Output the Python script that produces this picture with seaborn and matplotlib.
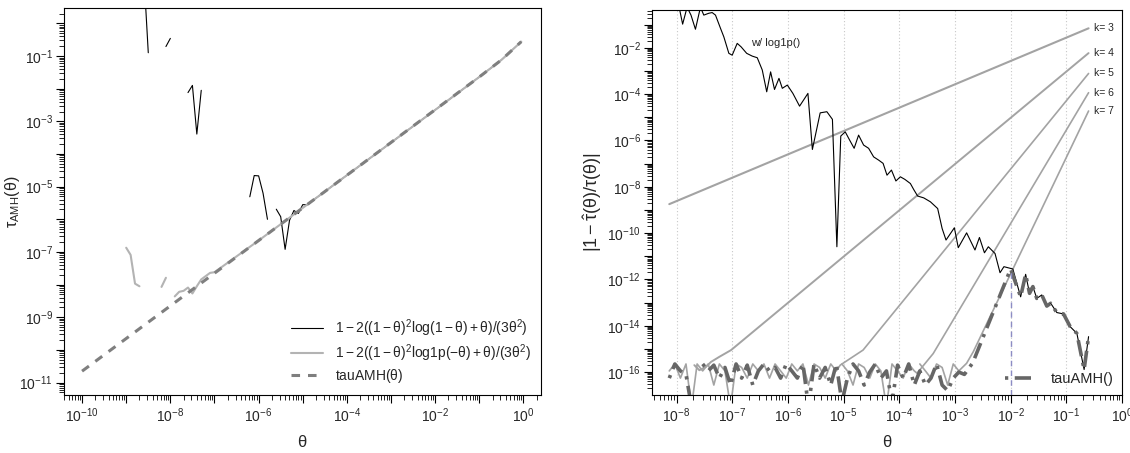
"""Relative error of tau_AMH evaluations (left: tau itself, right: |1 - tau_hat/tau|)."""

import numpy as np
import pandas as pd
import matplotlib
matplotlib.use("Agg")
import matplotlib.pyplot as plt
import seaborn as sns
from matplotlib.lines import Line2D
from matplotlib.ticker import FixedLocator, FuncFormatter, NullFormatter

nan = np.nan

# ---- left panel, values as log10(theta) / log10(tau) ----
left_naive_lx = [-8.6, -8.5, nan, -8.1, -8.0, nan, -7.6, -7.5, -7.4, -7.3, nan,
                 -6.2, -6.1, -6.0, -5.9, -5.8, nan,
                 -5.6, -5.5, -5.4, -5.3, -5.2, -5.1, -5.0, -4.9, -4.8,
                 -4.0, -2.0, -1.0, -0.5, -0.05]
left_naive_ly = [1.5, -0.90, nan, -0.71, -0.46, nan, -2.12, -1.90, -3.39, -2.05, nan,
                 -5.31, -4.66, -4.67, -5.20, -6.00, nan,
                 -5.69, -5.92, -6.92, -6.03, -5.73, -5.82, -5.55, -5.56, -5.45,
                 -4.65, -2.65, -1.64, -1.12, -0.56]

left_log1p_lx = [-9.0, -8.9, -8.8, -8.7, nan, -8.2, -8.1, nan,
                 -7.9, -7.8, -7.7, -7.6, -7.5, -7.4, -7.3, -7.2, -7.1, -7.0,
                 -6.0, -4.0, -2.0, -1.0, -0.5, -0.05]
left_log1p_ly = [-6.87, -7.09, -7.97, -8.05, nan, -8.07, -7.79, nan,
                 -8.36, -8.22, -8.19, -8.09, -8.27, -8.05, -7.84, -7.74, -7.64, -7.62,
                 -6.65, -4.65, -2.65, -1.64, -1.12, -0.56]

left_tau_lx = [-10.0, -7.0, -4.0, -1.0, -0.5, -0.05]
left_tau_ly = [-10.65, -7.65, -4.65, -1.64, -1.12, -0.56]

left_labels = [r"$1-2((1-\mathrm{\theta})^2\log(1-\mathrm{\theta})+\mathrm{\theta})/(3\mathrm{\theta}^2)$",
               r"$1-2((1-\mathrm{\theta})^2\mathrm{log1p}(-\mathrm{\theta})+\mathrm{\theta})/(3\mathrm{\theta}^2)$",
               r"tauAMH($\mathrm{\theta}$)"]

# ---- right panel ----
log1p_lx = [-8.0, -7.89, -7.81, -7.74, -7.66, -7.57, -7.51, -7.42, -7.36, -7.30,
            -7.21, -7.15, -7.06, -7.00, -6.91, -6.84, -6.74, -6.64, -6.55, -6.46,
            -6.38, -6.31, -6.24, -6.16, -6.10, -6.01, -5.91, -5.79, -5.64, -5.56,
            -5.42, -5.30, -5.20, -5.12, -5.05, -4.97, -4.89, -4.81, -4.73, -4.64,
            -4.55, -4.46, -4.37, -4.29, -4.22, -4.14, -4.06, -3.98, -3.90, -3.80,
            -3.74, -3.67, -3.56, -3.44, -3.31, -3.23, -3.16, -3.01, -2.94, -2.79,
            -2.64, -2.56, -2.47, -2.40, -2.28, -2.19, -2.12, -1.96, -1.82, -1.73,
            -1.66, -1.60, -1.53, -1.44, -1.35, -1.28, -1.17, -1.05, -0.93, -0.81,
            -0.68, -0.60]
log1p_ly = [0.3, -0.98, -0.25, -0.59, -1.2, -0.25, -0.59, -0.51, -0.48, -0.59,
            -1.16, -1.53, -2.24, -2.32, -1.81, -1.96, -2.24, -2.36, -2.43, -2.96,
            -3.90, -3.04, -3.80, -3.32, -3.75, -3.61, -3.97, -4.52, -3.97, -6.39,
            -4.81, -4.76, -5.09, -10.59, -5.81, -5.63, -5.99, -6.34, -5.77, -6.20,
            -6.34, -6.71, -6.85, -6.99, -7.50, -7.28, -7.75, -7.57, -7.68, -7.86,
            -8.12, -8.40, -8.48, -8.65, -8.94, -9.80, -10.30, -9.77, -10.63, -9.99,
            -10.73, -10.19, -10.85, -10.59, -10.88, -11.71, -11.45, -11.55, -12.75, -11.78,
            -12.60, -12.31, -12.82, -12.67, -13.15, -13.03, -13.43, -13.49, -14.04, -14.33,
            -15.89, -14.47]

floor_lx = [-8.13, -8.03, -7.93, -7.83, -7.73, -7.63, -7.53, -7.43, -7.33, -7.23,
            -7.13, -7.03, -6.93, -6.83, -6.73, -6.63, -6.53, -6.43, -6.33, -6.23,
            -6.13, -6.03, -5.93, -5.83, -5.73, -5.63, -5.53, -5.43, -5.33, -5.23,
            -5.13, -5.03, -4.93, -4.83, -4.73, -4.63, -4.53, -4.43, -4.33, -4.23,
            -4.13, -4.03, -3.93, -3.83, -3.73, -3.63, -3.53, -3.43, -3.33, -3.23,
            -3.13, -3.03, -2.93]
tau_floor_ly = [-16.26, -15.65, -15.95, -16.10, -17.50, nan, -15.65, -15.95, -15.70, -16.26,
                -15.80, -16.56, -15.65, -16.26, -15.70, -16.56, -15.95, -15.65, -15.95, -15.80,
                -16.26, -15.65, -15.95, -16.26, -15.65, -17.50, -15.65, -16.26, -15.80, -16.56,
                -15.65, -17.30, -16.26, -15.65, -15.95, -16.56, -16.00, -15.65, -16.26, -15.95,
                -17.30, -15.70, -16.26, -15.65, -16.56, -15.95, -16.56, -16.26, -15.65, -16.56,
                -16.80, -16.26, -16.00]
tau_rise_lx = [-2.83, -2.68, -2.0]
tau_rise_ly = [-16.10, -15.60, -11.55]

k5_floor_ly = [-15.95, -15.65, -16.26, -15.65, -17.50, -15.65, -15.95, -15.65, -16.56, -15.65,
               -15.95, -17.50, -15.65, -15.80, -16.26, -15.65, -15.95, -15.65, -16.26, -15.65,
               -15.95, -16.26, -15.65, -15.95, -15.65, -16.56, -15.65, -15.80, -16.26, -15.65,
               -15.95]
k6_floor_ly = [-15.65, -15.95, -16.56, -15.65, -15.80, -16.26, -15.65, -15.95, -17.50, -15.65,
               -15.95, -16.26, -15.65, -15.95]
k7_floor_ly = [-15.65, -15.95, -16.26, -15.65, -15.80, -16.56, -15.65, -15.95]

k3_lx, k3_ly = [-8.13, -0.60], [-8.75, -1.16]
k4_lx = [-7.68, -7.59, -7.47, -7.38, -7.23, -7.02, -0.60]
k4_ly = [-15.70, -15.92, -15.77, -15.56, -15.34, -15.05, -2.23]
k5_rise_lx, k5_rise_ly = [-5.06, -4.65, -0.60], [-15.70, -15.05, -3.11]
k6_rise_lx, k6_rise_ly = [-3.68, -3.39, -0.60], [-16.05, -15.20, -3.94]
k7_rise_lx, k7_rise_ly = [-2.79, -2.67, -0.60], [-15.62, -15.12, -4.73]

switch_theta = 1e-2  # tauAMH() switches from Taylor series to log1p() here

GRAY_K = "#a3a3a3"
GRAY_TAU = "#666666"


def draw(ax, lx, ly, **kw):
    """Draw one series on log axes; NaN breaks the line like in R."""
    df = pd.DataFrame({"lx": lx, "ly": ly})
    df["seg"] = (df["lx"].isna() | df["ly"].isna()).cumsum()
    df = df.dropna()
    df["theta"] = 10.0 ** df["lx"]
    df["val"] = 10.0 ** df["ly"]
    sns.lineplot(data=df, x="theta", y="val", units="seg", estimator=None,
                 sort=False, ax=ax, legend=False, **kw)


def log_ticks(axis, lo, hi, parity):
    """Decade ticks plus 2..9 minors, only inside [10^lo, 10^hi]."""
    majors = [10.0 ** e for e in range(int(np.ceil(lo)), int(np.floor(hi)) + 1)]
    minors = [m * 10.0 ** e for e in range(int(np.floor(lo)), int(np.ceil(hi)) + 1)
              for m in range(2, 10) if lo <= np.log10(m) + e <= hi]
    axis.set_major_locator(FixedLocator(majors))
    axis.set_minor_locator(FixedLocator(minors))
    axis.set_minor_formatter(NullFormatter())

    def fmt(v, pos):
        e = int(round(np.log10(v)))
        if parity is None or e % 2 == parity:
            return f"$10^{{{e}}}$"
        return ""
    axis.set_major_formatter(FuncFormatter(fmt))


def style_axes(ax):
    for sp in ax.spines.values():
        sp.set_linewidth(0.8)
        sp.set_color("black")
    ax.tick_params(which="major", direction="out", length=6, width=0.8, labelsize=10, pad=2,
                   color="black")
    ax.tick_params(which="minor", direction="out", length=3.5, width=0.6, color="black")


def main() -> None:
    sns.set_style("ticks")
    plt.rcParams["font.family"] = ["Liberation Sans", "DejaVu Sans"]
    plt.rcParams["mathtext.fontset"] = "custom"
    plt.rcParams["mathtext.rm"] = "Liberation Sans"
    plt.rcParams["mathtext.it"] = "Liberation Sans:italic"
    plt.rcParams["mathtext.bf"] = "Liberation Sans:bold"

    fig = plt.figure(figsize=(11.3, 4.53), dpi=100)

    # ---------- left ----------
    ax = fig.add_axes([0.0566, 0.128, 0.4219, 0.8536])
    ax.set_xscale("log")
    ax.set_yscale("log")
    draw(ax, left_naive_lx, left_naive_ly, color="black", linewidth=0.8)
    draw(ax, left_log1p_lx, left_log1p_ly, color="#b3b3b3", linewidth=1.5)
    draw(ax, left_tau_lx, left_tau_ly, color="#7f7f7f", linewidth=2.2,
         linestyle=(0, (2.8, 2.6)))
    xlo, xhi, ylo, yhi = -10.41, 0.39, -11.38, 0.46
    ax.set_xlim(10 ** xlo, 10 ** xhi)
    ax.set_ylim(10 ** ylo, 10 ** yhi)
    log_ticks(ax.xaxis, xlo, xhi, 0)
    log_ticks(ax.yaxis, ylo, yhi, 1)
    style_axes(ax)
    ax.set_xlabel(r"$\mathrm{\theta}$", fontsize=12, labelpad=7)
    ax.set_ylabel(r"$\mathrm{\tau}_{\mathrm{AMH}}(\mathrm{\theta})$", fontsize=11.5)
    ax.yaxis.set_label_coords(-0.088, 0.5)
    handles = [Line2D([], [], color="black", lw=0.8),
               Line2D([], [], color="#b3b3b3", lw=1.5),
               Line2D([], [], color="#7f7f7f", lw=2.2, linestyle=(0, (2.8, 2.6)))]
    ax.legend(handles, left_labels, loc="lower right", frameon=False, fontsize=10,
              handlelength=2.3, handletextpad=0.9, labelspacing=0.25,
              borderaxespad=0.3, bbox_to_anchor=(1.0, 0.0))

    # ---------- right ----------
    ax = fig.add_axes([0.577, 0.128, 0.4159, 0.8499])
    ax.set_xscale("log")
    ax.set_yscale("log")
    ax.grid(axis="x", which="major", color="#c8c8c8", linestyle=(0, (1, 2)), linewidth=0.8)

    draw(ax, k3_lx, k3_ly, color=GRAY_K, linewidth=1.5)
    draw(ax, k4_lx, k4_ly, color=GRAY_K, linewidth=1.4)
    draw(ax, floor_lx[:31] + k5_rise_lx, k5_floor_ly + k5_rise_ly, color=GRAY_K, linewidth=1.2)
    draw(ax, floor_lx[31:45] + k6_rise_lx, k6_floor_ly + k6_rise_ly, color=GRAY_K, linewidth=1.2)
    draw(ax, floor_lx[45:] + k7_rise_lx, k7_floor_ly + k7_rise_ly, color=GRAY_K, linewidth=1.2)

    draw(ax, log1p_lx, log1p_ly, color="black", linewidth=0.8)

    tau_lx = floor_lx + tau_rise_lx + log1p_lx[68:]
    tau_ly = tau_floor_ly + tau_rise_ly + log1p_ly[68:]
    tau_dash = (0, (0.9, 1.8, 4.5, 1.8))
    draw(ax, tau_lx, tau_ly, color=GRAY_TAU, linewidth=2.6, linestyle=tau_dash)

    xlo, xhi, ylo, yhi = -8.44, 0.0, -16.99, -0.37
    ax.set_xlim(10 ** xlo, 10 ** xhi)
    ax.set_ylim(10 ** ylo, 10 ** yhi)
    peak = 10 ** tau_rise_ly[-1]
    ax.vlines(switch_theta, 10 ** ylo, peak, colors="#8c8cc4", linewidth=1.0,
              linestyles=(0, (4, 3)))

    for k, (lx, ly) in zip(range(3, 8), [(k3_lx, k3_ly), (k4_lx, k4_ly), (k5_rise_lx, k5_rise_ly),
                                         (k6_rise_lx, k6_rise_ly), (k7_rise_lx, k7_rise_ly)]):
        ax.annotate(f"k= {k}", (10 ** lx[-1], 10 ** ly[-1]), xytext=(4, 0),
                    textcoords="offset points", ha="left", va="center", fontsize=7.5,
                    annotation_clip=False)
    ax.text(10 ** -6.67, 10 ** -1.8, "w/ log1p()", fontsize=8, ha="left", va="center")

    log_ticks(ax.xaxis, xlo, xhi + 0.01, None)
    log_ticks(ax.yaxis, ylo, yhi, 0)
    style_axes(ax)
    ax.set_xlabel(r"$\mathrm{\theta}$", fontsize=12, labelpad=7)
    ax.set_ylabel(r"$|1-\hat{\mathrm{\tau}}(\mathrm{\theta})/\mathrm{\tau}(\mathrm{\theta})|$",
                  fontsize=13)
    ax.yaxis.set_label_coords(-0.102, 0.5)
    ax.legend([Line2D([], [], color=GRAY_TAU, lw=2.6, linestyle=tau_dash)], ["tauAMH()"],
              loc="lower right", frameon=False, fontsize=10.5, handlelength=2.2,
              handletextpad=0.9, borderaxespad=0.2, bbox_to_anchor=(1.0, 0.0))

    fig.savefig("out.png", dpi=100)
    plt.close(fig)


if __name__ == "__main__":
    main()
